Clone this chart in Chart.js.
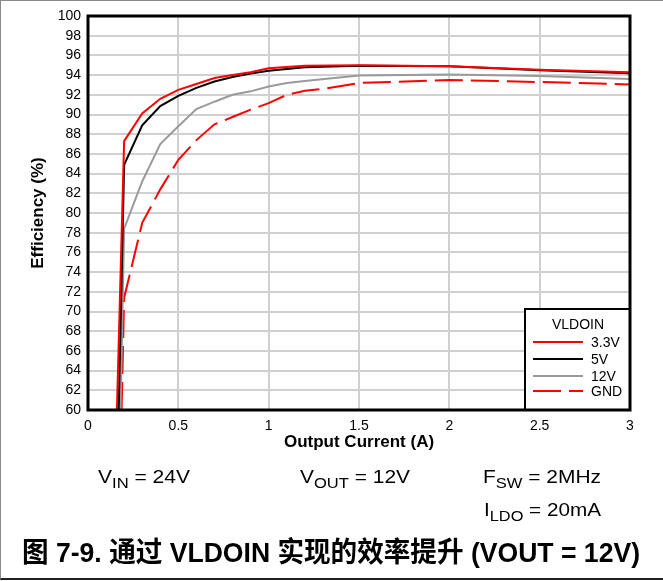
<!DOCTYPE html>
<html><head><meta charset="utf-8">
<script src="https://cdn.jsdelivr.net/npm/chart.js@4.4.1/dist/chart.umd.min.js"></script>
<style>
html,body{margin:0;padding:0;background:#fff;}
#wrap{position:relative;width:663px;height:581px;overflow:hidden;font-family:"Liberation Sans",Arial,"Noto Sans CJK SC",sans-serif;color:#000;}
#frame{position:absolute;left:0;top:0;width:663px;height:580px;box-sizing:border-box;border-top:1px solid #8a8a8a;border-left:1px solid #8a8a8a;border-bottom:2px solid #222;pointer-events:none;}
#cv{position:absolute;left:0;top:0;}
.t{position:absolute;white-space:nowrap;line-height:1;transform-origin:0 0;}
.s{font-size:15px;position:relative;top:5px;}
</style></head>
<body><div id="wrap">
<canvas id="cv" width="663" height="581"></canvas>
<div class="t" id="vin" style="left:98px;top:467px;font-size:19px;">V<span class="s">IN</span> = 24V</div>
<div class="t" id="vout" style="left:300px;top:467px;font-size:19px;">V<span class="s">OUT</span> = 12V</div>
<div class="t" id="fsw" style="left:483px;top:467px;font-size:19px;">F<span class="s">SW</span> = 2MHz</div>
<div class="t" id="ildo" style="left:484px;top:500px;font-size:19px;">I<span class="s">LDO</span> = 20mA</div>
<div class="t" id="cap" style="left:22px;top:539px;font-size:28px;font-weight:bold;">图 7-9. 通过 VLDOIN 实现的效率提升 (VOUT = 12V)</div>
<div id="frame"></div>
</div>
<script>
// ---- data ----
const xTickLabels = ['0','0.5','1','1.5','2','2.5','3'];
const yTickLabels = ['60','62','64','66','68','70','72','74','76','78','80','82','84','86','88','90','92','94','96','98','100'];
const legendTitle = 'VLDOIN';
const seriesNames = ['3.3V','5V','12V','GND'];

const current33 = [0.16, 0.2, 0.3, 0.4, 0.5, 0.6, 0.7, 0.8, 0.9, 1.0, 1.2, 1.5, 2.0, 2.5, 3.0];
const eff33     = [60, 87.3, 90.1, 91.6, 92.5, 93.1, 93.7, 94.0, 94.3, 94.7, 94.95, 95.0, 94.9, 94.55, 94.3];

const current5  = [0.17, 0.2, 0.3, 0.4, 0.5, 0.6, 0.7, 0.8, 0.9, 1.0, 1.2, 1.5, 2.0, 2.5, 3.0];
const eff5      = [60, 84.9, 88.9, 90.85, 91.9, 92.7, 93.35, 93.8, 94.15, 94.45, 94.8, 94.95, 94.9, 94.5, 94.2];

const current12 = [0.18, 0.2, 0.3, 0.4, 0.5, 0.6, 0.7, 0.8, 0.9, 1.0, 1.1, 1.2, 1.5, 2.0, 2.5, 3.0];
const eff12     = [60, 78.4, 83.2, 87.0, 88.8, 90.55, 91.3, 92.0, 92.35, 92.85, 93.2, 93.4, 93.95, 94.05, 93.9, 93.6];

const currentGnd = [0.186, 0.2, 0.3, 0.4, 0.5, 0.6, 0.7, 0.8, 0.9, 1.0, 1.1, 1.2, 1.3, 1.5, 2.0, 2.5, 3.0];
const effGnd     = [60, 71.4, 79.0, 82.4, 85.4, 87.4, 89.0, 89.75, 90.5, 91.15, 92.0, 92.4, 92.6, 93.2, 93.5, 93.3, 93.05];

// ---- styles ----
const FONT = '"Liberation Sans", Arial, sans-serif';
const colors = ['#ff0000', '#000000', '#9a9a9a', '#ff0000'];
const dashes = [[], [], [], [28, 8]];
const xs = [current33, current5, current12, currentGnd];
const ys = [eff33, eff5, eff12, effGnd];

const datasets = seriesNames.map((name, k) => ({
  label: name,
  data: xs[k].map((x, i) => ({x: x, y: ys[k][i]})),
  borderColor: colors[k],
  borderWidth: 2,
  borderDash: dashes[k],
  pointRadius: 0,
  tension: 0,
  fill: false
}));

const overlay = {
  id: 'overlay',
  afterDatasetsDraw(chart) {
    const ctx = chart.ctx, a = chart.chartArea;
    // legend box
    const bw = 105, bh = 101;
    const bx = a.right - bw, by = a.bottom - bh;
    ctx.save();
    ctx.fillStyle = '#fff';
    ctx.fillRect(bx, by, bw, bh);
    ctx.strokeStyle = '#000';
    ctx.lineWidth = 2;
    ctx.strokeRect(bx, by, bw, bh);
    ctx.fillStyle = '#000';
    ctx.font = '14px ' + FONT;
    ctx.textAlign = 'center';
    ctx.textBaseline = 'middle';
    ctx.fillText(legendTitle, bx + 53, by + 16);
    const rowY = [33, 50, 67, 82];
    ctx.textAlign = 'left';
    seriesNames.forEach((n, k) => {
      const y = by + rowY[k];
      ctx.beginPath();
      ctx.strokeStyle = colors[k];
      ctx.lineWidth = 2;
      ctx.setLineDash(dashes[k]);
      ctx.moveTo(bx + 8, y);
      ctx.lineTo(bx + 58, y);
      ctx.stroke();
      ctx.setLineDash([]);
      ctx.fillStyle = '#000';
      ctx.fillText(n, bx + 66, y + 1);
    });
    // plot border
    ctx.strokeStyle = '#000';
    ctx.lineWidth = 3;
    ctx.strokeRect(a.left, a.top, a.right - a.left, a.bottom - a.top);
    ctx.restore();
  }
};

new Chart(document.getElementById('cv'), {
  type: 'line',
  data: {datasets: datasets},
  options: {
    responsive: false,
    animation: false,
    devicePixelRatio: 1,
    layout: {padding: {left: 0, top: 16, right: 33, bottom: 121}},
    plugins: {legend: {display: false}, tooltip: {enabled: false}},
    scales: {
      x: {
        type: 'linear', min: 0, max: 3,
        afterFit(s) { s.height = 50; },
        ticks: {stepSize: 0.5, autoSkip: false, maxRotation: 0, padding: 8, color: '#000',
                font: {family: FONT, size: 14},
                callback: (v, i) => xTickLabels[i]},
        grid: {color: '#d0d0d0', lineWidth: 2, drawTicks: false},
        border: {display: false},
        title: {display: true, text: 'Output Current (A)', color: '#000',
                font: {family: FONT, size: 17, weight: 'bold'}, padding: {top: 0, bottom: 7}}
      },
      y: {
        type: 'linear', min: 60, max: 100,
        afterFit(s) { s.width = 88; },
        ticks: {stepSize: 2, autoSkip: false, padding: 7, color: '#000',
                font: {family: FONT, size: 14},
                callback: (v, i) => yTickLabels[i]},
        grid: {color: '#d0d0d0', lineWidth: 2, drawTicks: false},
        border: {display: false},
        title: {display: true, text: 'Efficiency (%)', color: '#000',
                font: {family: FONT, size: 17, weight: 'bold'}, padding: {top: 28, bottom: 0}}
      }
    }
  },
  plugins: [overlay]
});

// stretch the annotation texts horizontally to the reference widths
function fit(id, w) {
  const el = document.getElementById(id);
  const r = el.getBoundingClientRect().width;
  el.style.transform = 'scaleX(' + (w / r) + ')';
}
fit('vin', 92); fit('vout', 110); fit('fsw', 118); fit('ildo', 117); fit('cap', 618);
</script>
</body></html>
